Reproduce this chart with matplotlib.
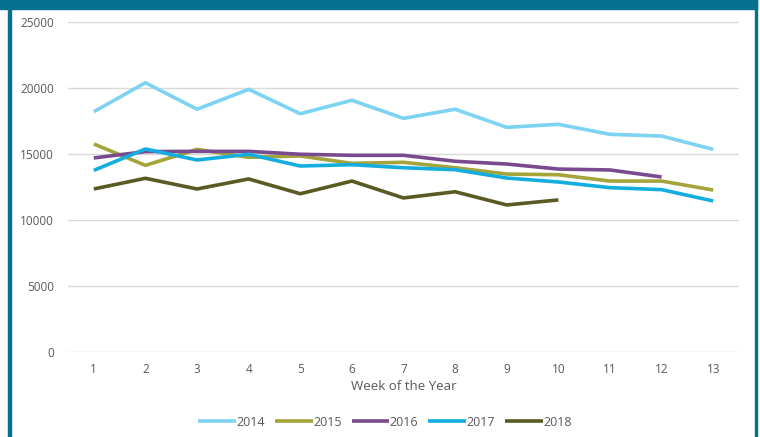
import matplotlib
matplotlib.use("Agg")
import matplotlib.pyplot as plt
from matplotlib.patches import Rectangle

plt.rcParams['font.family'] = ['Open Sans', 'DejaVu Sans']

weeks = list(range(1, 14))
years = ['2014', '2015', '2016', '2017', '2018']
v2014 = [18200, 20400, 18390, 19900, 18050, 19070, 17700, 18390, 17020, 17250, 16490, 16360, 15350]
v2015 = [15760, 14140, 15350, 14750, 14850, 14290, 14370, 13960, 13480, 13430, 12950, 12950, 12270]
v2016 = [14700, 15180, 15200, 15200, 14980, 14900, 14900, 14450, 14240, 13860, 13790, 13260]
v2017 = [13760, 15380, 14545, 14980, 14090, 14190, 13960, 13810, 13180, 12880, 12450, 12300, 11440]
v2018 = [12350, 13160, 12350, 13110, 11990, 12950, 11670, 12140, 11140, 11520]
series = [v2014, v2015, v2016, v2017, v2018]
colors = ['#7DD3F2', '#A4A43A', '#7A4A8E', '#13AEDF', '#5A5A24']

fig = plt.figure(figsize=(7.6, 4.37), dpi=100)
ax = fig.add_axes([68 / 760, 1 - 352 / 437, (739 - 68) / 760, 330 / 437])

for name, vals, c in zip(years, series, colors):
    ax.plot(weeks[:len(vals)], vals, color=c, lw=2.6, label=name, solid_capstyle='butt')

ax.set_xlim(0.5, 13.5)
ax.set_ylim(0, 25000)
ax.set_yticks(range(0, 25001, 5000))
ax.set_xticks(weeks)
ax.grid(axis='y', color='#D9D9D9', lw=1)
ax.set_axisbelow(True)
for s in ax.spines.values():
    s.set_visible(False)
ax.tick_params(length=0, labelsize=8.5, colors='#595959')
ax.tick_params(axis='x', pad=8)
ax.tick_params(axis='y', pad=10)
ax.set_xlabel('Week of the Year', fontsize=9.5, color='#595959', labelpad=3)

ax.legend(loc='center', bbox_to_anchor=(385 / 760, 1 - 422 / 437), bbox_transform=fig.transFigure,
          ncol=5, frameon=False, fontsize=9, handlelength=3.0, handletextpad=0.05,
          columnspacing=0.8, labelcolor='#595959')

# frame
teal = '#04718F'
fig.patches.append(Rectangle((0, 1 - 9 / 437), 757 / 760, 9 / 437, transform=fig.transFigure,
                             color=teal, zorder=0))
fig.patches.append(Rectangle((8 / 760, 0), 2.5 / 760, 1, transform=fig.transFigure,
                             color=teal, zorder=0))
fig.patches.append(Rectangle((754.5 / 760, 0), 2.5 / 760, 1, transform=fig.transFigure,
                             color=teal, zorder=0))

fig.savefig('out.png', dpi=100)
